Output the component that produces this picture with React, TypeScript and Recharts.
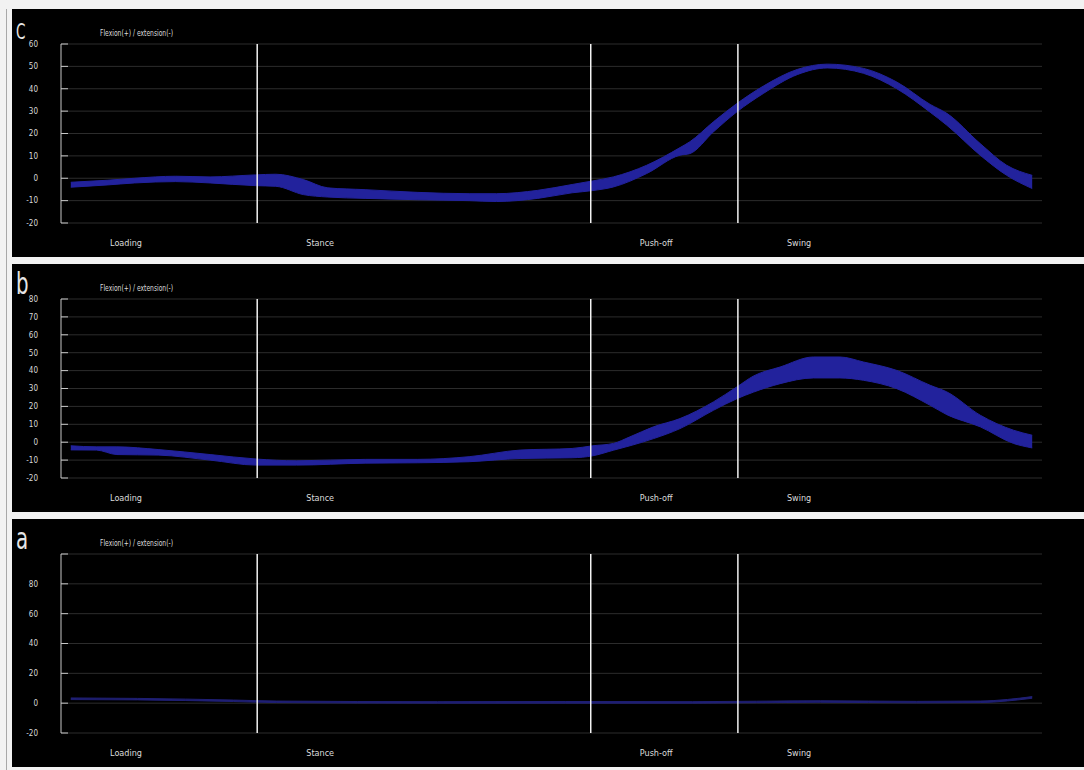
import { AreaChart, Area, XAxis, YAxis, CartesianGrid, ReferenceLine } from "recharts";

// gait cycle, % of stride
const X_TICKS = [0, 10, 20, 30, 40, 50, 60, 70, 80, 90, 100];
const PHASE_LINES = [20, 54, 69];
const PHASES = ["Loading", "Stance", "Push-off", "Swing"];
const PHASE_LABEL_AT = [5, 25, 59, 74];
const TITLE = "Flexion(+) / extension(-)";

// panel c
const C_X = [1, 4.7, 7.5, 11.7, 15.2, 19.8, 21.9, 24.7, 27.2, 31, 36.3, 41.6, 44.4, 48.6, 52.1, 54.2, 56.3, 59.7, 63.1, 64.1, 66.5, 68.9, 71.6, 75.1, 78.1, 81.8, 85.2, 88.6, 90.3, 93.7, 96.4, 99];
const C_HIGH = [-1.8, -0.9, 0, 0.9, 0.6, 1.5, 1.8, -0.6, -4.3, -5.1, -6.3, -6.9, -6.9, -5.4, -2.8, -1.2, 0.6, 5.8, 13.7, 16.3, 25.2, 33.4, 41.2, 48.7, 51, 49.1, 43, 33, 29, 15.5, 5.8, 1.3];
const C_LOW = [-4, -3, -2.1, -1.5, -2.1, -3.3, -3.6, -7.3, -8.4, -9, -9.6, -10, -10.4, -9, -6.5, -5.5, -3.9, 2.1, 10.3, 11, 20.7, 29.7, 37.9, 46.4, 49.3, 46.9, 40, 29.5, 23.7, 10.3, 1.3, -4.6];
const C_Y_TICKS = [-20, -10, 0, 10, 20, 30, 40, 50, 60];
const C_Y_LABELS = ["-20", "-10", "0", "10", "20", "30", "40", "50", "60"];

// panel b
const B_X = [1, 3.6, 5.7, 9.9, 15.2, 19.9, 24, 31, 36.3, 41.6, 46.8, 52.1, 54.2, 56.3, 58, 60.4, 63.1, 66.5, 68.9, 70.6, 73.3, 76.7, 79.4, 81.8, 85.2, 88.6, 90.3, 93.7, 97.1, 99];
const B_HIGH = [-2, -2.6, -2.6, -4.1, -6.9, -9.4, -10.4, -9.6, -9.6, -8.1, -4.4, -3.5, -2, -0.7, 3, 8.6, 13.2, 22.5, 30.9, 37, 42, 47.6, 47.6, 44.8, 40.1, 31.8, 28.1, 15.1, 6.7, 3.9];
const B_LOW = [-4.3, -4.4, -6.9, -7.2, -10, -12.8, -12.8, -11.7, -11.5, -10.9, -9.1, -8.7, -7.6, -4.5, -2, 2, 7.6, 17.8, 24.3, 28, 32.7, 35.9, 35.9, 34.6, 29.9, 20.6, 15.4, 8.6, -0.7, -3.2];
const B_Y_TICKS = [-20, -10, 0, 10, 20, 30, 40, 50, 60, 70, 80];
const B_Y_LABELS = ["-20", "-10", "0", "10", "20", "30", "40", "50", "60", "70", "80"];

// panel a
const A_X = [1, 7.8, 17.6, 22, 38.4, 51.4, 64.4, 77.4, 87.2, 93.7, 96.5, 99];
const A_HIGH = [3.5, 3.2, 2.1, 1.4, 1, 1.1, 1, 1.6, 1.2, 1.4, 2.5, 4.4];
const A_LOW = [2.4, 2.2, 1.1, 0.4, 0, 0, 0, 0.6, 0.2, 0.4, 1.5, 3.3];
const A_Y_TICKS = [-20, 0, 20, 40, 60, 80, 100];
const A_Y_LABELS = ["-20", "0", "20", "40", "60", "80", ""];

const FONT = "'Liberation Sans Narrow', 'DejaVu Sans Condensed', 'Arial Narrow', sans-serif";
const W = 1072;
const H = 248;

const toRows = (xs: number[], low: number[], high: number[]) =>
  xs.map((x, i) => ({ x, range: [low[i], high[i]] }));

function Panel({
  letter,
  letterSize,
  rows,
  yTicks,
  yLabels,
  fill,
  top,
}: {
  letter: string;
  letterSize: number;
  rows: { x: number; range: number[] }[];
  yTicks: number[];
  yLabels: string[];
  fill: string;
  top: number;
}) {
  return (
    <div style={{ position: "absolute", left: 12, top, width: W, height: H, background: "#000" }}>
      <AreaChart
        width={W}
        height={H}
        data={rows}
        margin={{ top: 35, right: 42, left: 14, bottom: 0 }}
        style={{ fontFamily: FONT }}
      >
        <CartesianGrid vertical={false} stroke="#2c2c2c" />
        <XAxis
          dataKey="x"
          type="number"
          domain={[0, 100]}
          ticks={X_TICKS}
          height={0}
          tickSize={-5}
          tickFormatter={() => ""}
          stroke="#c8c8c8"
          axisLine={{ stroke: "#c8c8c8" }}
          tickLine={{ stroke: "#c8c8c8" }}
        />
        <XAxis
          xAxisId="phase"
          dataKey="x"
          type="number"
          domain={[0, 100]}
          ticks={PHASE_LABEL_AT}
          height={34}
          tickSize={0}
          tickMargin={17}
          axisLine={false}
          tickLine={false}
          tickFormatter={(_v: number, i: number) => PHASES[i]}
          tick={{ fill: "#dcdcdc", fontSize: 9, textAnchor: "start", fontFamily: FONT }}
        />
        <YAxis
          type="number"
          domain={[yTicks[0], yTicks[yTicks.length - 1]]}
          ticks={yTicks}
          width={35}
          tickSize={-7}
          tickMargin={30}
          interval={0}
          axisLine={{ stroke: "#c8c8c8" }}
          tickLine={{ stroke: "#c8c8c8" }}
          tickFormatter={(v: number) => yLabels[yTicks.indexOf(v)] ?? ""}
          tick={{ fill: "#d8d8d8", fontSize: 8, fontFamily: FONT }}
        />
        <Area
          type="monotone"
          dataKey="range"
          fill={fill}
          fillOpacity={1}
          stroke={fill}
          strokeWidth={1}
          isAnimationActive={false}
          activeDot={false}
          dot={false}
        />
        {PHASE_LINES.map((x) => (
          <ReferenceLine key={x} x={x} stroke="#f2f2f2" strokeWidth={1.5} />
        ))}
      </AreaChart>
      <svg
        width={W}
        height={H}
        style={{ position: "absolute", left: 0, top: 0, pointerEvents: "none", fontFamily: FONT }}
      >
        <text transform="translate(4,30) scale(1,1.4)" fontSize={letterSize} fill="#e6e6e6">
          {letter}
        </text>
        <text x={88} y={26.5} fontSize={8.5} fill="#dcdcdc" textLength={73} lengthAdjust="spacingAndGlyphs">
          {TITLE}
        </text>
      </svg>
    </div>
  );
}

export default function App() {
  return (
    <div
      style={{
        position: "absolute",
        left: 0,
        top: 0,
        width: 1084,
        height: 770,
        background: "#f2f2f2",
        overflow: "hidden",
      }}
    >
      <div style={{ position: "absolute", left: 6, top: 9, width: 1, height: 761, background: "#a8a8a8" }} />
      <Panel letter="C" letterSize={15} rows={toRows(C_X, C_LOW, C_HIGH)} yTicks={C_Y_TICKS} yLabels={C_Y_LABELS} fill="#22229c" top={9} />
      <Panel letter="b" letterSize={22} rows={toRows(B_X, B_LOW, B_HIGH)} yTicks={B_Y_TICKS} yLabels={B_Y_LABELS} fill="#22229c" top={264} />
      <Panel letter="a" letterSize={22} rows={toRows(A_X, A_LOW, A_HIGH)} yTicks={A_Y_TICKS} yLabels={A_Y_LABELS} fill="#1f1f74" top={519} />
    </div>
  );
}
